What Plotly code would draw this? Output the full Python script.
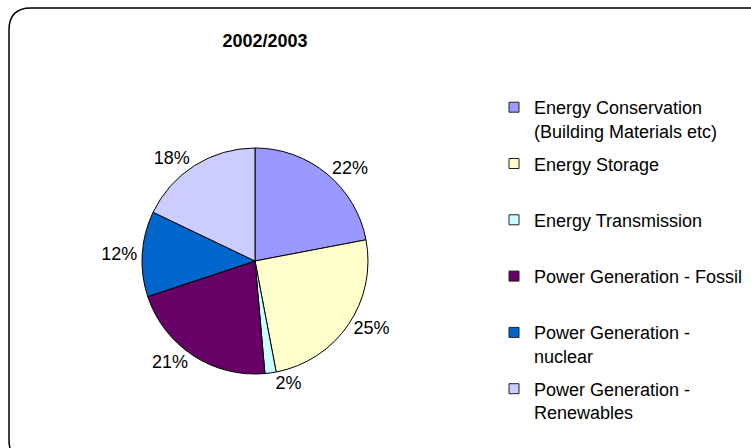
import plotly.graph_objects as go

# ------------------------------------------------------------
#   datos
# ------------------------------------------------------------
categorias = [
    "Energy Conservation<br>(Building Materials etc)",
    "Energy Storage",
    "Energy Transmission",
    "Power Generation - Fossil",
    "Power Generation -<br>nuclear",
    "Power Generation -<br>Renewables",
]
valores = [22.0, 25.0, 1.6, 21.3, 12.2, 17.9]
colores = ["#9999FF", "#FFFFCC", "#CCFFFF", "#660066", "#0066CC", "#CCCCFF"]
titulo = "2002/2003"

W, H = 751, 448
FUENTE = "Liberation Sans, Arial, sans-serif"


def px_x(v):
    return v / W


def px_y(v):
    # pixel desde arriba -> fraccion paper desde abajo
    return 1 - v / H


fig = go.Figure()

# la tarta (sin leyenda propia: la leyenda va con trazas auxiliares para poder espaciarla)
fig.add_trace(go.Pie(
    labels=categorias,
    values=valores,
    sort=False,
    direction="clockwise",
    rotation=0,
    marker=dict(colors=colores, line=dict(color="#000000", width=1)),
    texttemplate="%{percent:.0%}",
    textposition="outside",
    textfont=dict(family=FUENTE, size=18, color="#000000"),
    domain=dict(x=[px_x(142), px_x(368)], y=[px_y(374), px_y(148)]),
    showlegend=False,
    hoverinfo="label+value+percent",
))

# leyenda: una traza vacia por categoria, cada una en su grupo
for nombre, color in zip(categorias, colores):
    texto = nombre if "<br>" in nombre else nombre + "<br> "
    fig.add_trace(go.Scatter(
        x=[None], y=[None],
        mode="markers",
        name=texto,
        legendgroup=nombre,
        marker=dict(symbol="square", size=10, color=color, line=dict(color="#222222", width=1)),
        hoverinfo="skip",
    ))

# marco redondeado (se sale por la derecha y por abajo como en el original)
l, t, r, b, rad = 9, 8, 775, 462, 22
marco = (
    f"M {l + rad},{t} L {r - rad},{t} Q {r},{t} {r},{t + rad} "
    f"L {r},{b - rad} Q {r},{b} {r - rad},{b} "
    f"L {l + rad},{b} Q {l},{b} {l},{b - rad} "
    f"L {l},{t + rad} Q {l},{t} {l + rad},{t} Z"
)
fig.add_shape(type="path", path=marco, xref="x", yref="y",
              line=dict(color="#000000", width=1.5), layer="below")

fig.update_layout(
    width=W,
    height=H,
    margin=dict(l=0, r=0, t=0, b=0, autoexpand=False),
    paper_bgcolor="white",
    plot_bgcolor="white",
    font=dict(family=FUENTE, color="#000000"),
    title=dict(
        text=f"<b>{titulo}</b>",
        font=dict(family=FUENTE, size=18, color="#000000"),
        x=px_x(265), xanchor="center", xref="container",
        y=px_y(41), yanchor="middle", yref="container",
    ),
    xaxis=dict(visible=False, range=[0, W], fixedrange=True),
    yaxis=dict(visible=False, range=[H, 0], fixedrange=True),
    showlegend=True,
    legend=dict(
        x=px_x(494), xanchor="left",
        y=px_y(89), yanchor="top",
        traceorder="grouped",
        tracegroupgap=6.5,
        valign="top",
        font=dict(family=FUENTE, size=18, color="#000000"),
        bgcolor="rgba(0,0,0,0)",
    ),
)

# quitar el margen por defecto del body para que el grafico empiece en (0, 0)
fig.write_html(
    "out.html",
    config={"displayModeBar": False},
    post_script="document.body.style.margin = '0';",
)
